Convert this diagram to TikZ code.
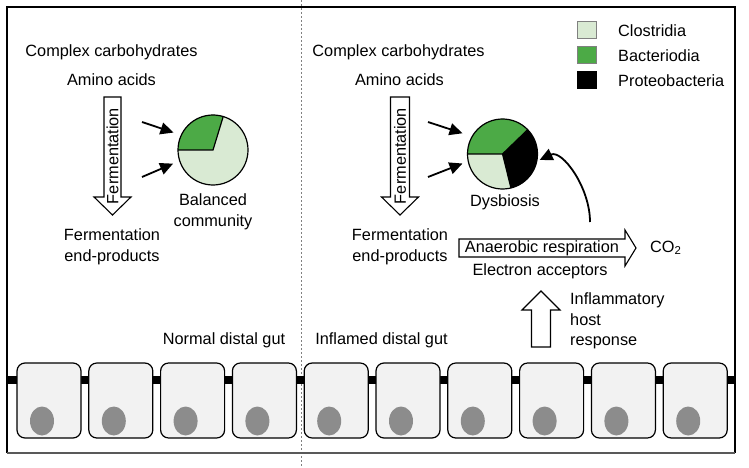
\documentclass[tikz,border=0pt]{standalone}
\usepackage{fontspec}
\setmainfont{Liberation Sans}
\usetikzlibrary{arrows.meta,calc,shapes.geometric}

\definecolor{clostridia}{RGB}{217,234,211}
\definecolor{bacteroid}{RGB}{76,170,70}
\definecolor{cellfill}{RGB}{242,242,242}
\definecolor{nucleusgray}{RGB}{140,140,140}

\begin{document}
\begin{tikzpicture}[x=1pt,y=-1pt,
	every node/.style={font=\fontsize{16.3}{20.5}\selectfont, inner sep=0pt},
	cellbox/.style={draw, fill=cellfill, rounded corners=8pt, line width=1.2pt, minimum width=64pt, minimum height=75pt},
	nucleus/.style={ellipse, fill=nucleusgray, minimum width=24pt, minimum height=29pt},
	pie/.style={circle, minimum size=70pt},
	feed/.style={line width=1.8pt, -{Triangle[length=13pt,width=12pt]}},
	blockarrow/.style={draw, fill=white, line width=1.1pt, line join=miter},
	legendbox/.style={draw=gray, fill=#1, line width=1pt, minimum width=19pt, minimum height=17pt}]
	\useasboundingbox (0,0) rectangle (749,468);
	% frame and divider
	\draw[gray, line width=1pt, dash pattern=on 2pt off 2pt] (301,0) -- (301,468);
	\draw[line width=1.2pt] (7,453) -- (7,7) -- (735,7) -- (735,453);
	\draw[gray!70!black, line width=1.2pt] (7,453) -- (735,453);
	% epithelium
	\draw[line width=8pt] (7,380) -- (735,380);
	\foreach \i in {0,...,9}{
		\node[cellbox] (cell\i) at (49+71.8*\i,400.5) {};
		\node[nucleus] (nuc\i) at ($(cell\i)+(-7,20.5)$) {};
	}
	\node (normal) at (224,340) {Normal distal gut};
	\node (inflamed) at (381.5,340) {Inflamed distal gut};
	% left panel
	\node (carbA) at (111.5,52) {Complex carbohydrates};
	\node (aminoA) at (111.5,80) {Amino acids};
	\draw[blockarrow] (104,97) -- (121,97) -- (121,197) -- (131,197) -- (112.5,215) -- (94,197) -- (104,197) -- cycle;
	\node[rotate=90] (fermA) at (112.5,156) {Fermentation};
	\node[align=center] (endA) at (112,247) {Fermentation\\end-products};
	\node[pie] (pieA) at (213,150) {};
	\fill[clostridia] (pieA) circle[radius=35pt];
	\fill[bacteroid] (pieA.center) -- (pieA.73) arc[start angle=73, end angle=180, radius=35pt] -- cycle;
	\draw[line width=1.2pt] (pieA.180) -- (pieA.center) -- (pieA.73);
	\draw[line width=1.2pt] (pieA) circle[radius=35pt];
	\coordinate (srcA1) at (142,122);
	\coordinate (srcA2) at (142,177);
	\draw[feed, shorten >=8pt] (srcA1) -- (pieA.155);
	\draw[feed, shorten >=7pt] (srcA2) -- (pieA.198);
	\node[align=center] (balanced) at (213,212) {Balanced\\community};
	% right panel
	\node (carbB) at (398.5,52) {Complex carbohydrates};
	\node (aminoB) at (399.5,80) {Amino acids};
	\draw[blockarrow] (390.5,97) -- (409.5,97) -- (409.5,197) -- (418.5,197) -- (400,215) -- (381.5,197) -- (390.5,197) -- cycle;
	\node[rotate=90] (fermB) at (400,156) {Fermentation};
	\node[align=center] (endB) at (400,247) {Fermentation\\end-products};
	\node[pie] (pieB) at (502.5,154) {};
	\fill[clostridia] (pieB) circle[radius=35pt];
	\fill[bacteroid] (pieB.center) -- (pieB.44) arc[start angle=44, end angle=180, radius=35pt] -- cycle;
	\fill[black] (pieB.center) -- (pieB.-76) arc[start angle=-76, end angle=44, radius=35pt] -- cycle;
	\draw[line width=1.2pt] (pieB.180) -- (pieB.center) -- (pieB.44);
	\draw[line width=1.2pt] (pieB.center) -- (pieB.-76);
	\draw[line width=1.2pt] (pieB) circle[radius=35pt];
	\coordinate (srcB1) at (428,122);
	\coordinate (srcB2) at (428,177);
	\draw[feed, shorten >=10pt] (srcB1) -- (pieB.150);
	\draw[feed, shorten >=6pt] (srcB2) -- (pieB.192);
	\node (dysbiosis) at (505,202) {Dysbiosis};
	% respiration
	\draw[blockarrow] (459,239) -- (625,239) -- (625,230) -- (636,248) -- (625,266) -- (625,257) -- (459,257) -- cycle;
	\node (anaerobic) at (542,248) {Anaerobic respiration};
	\node[anchor=west] (co2) at (650,248) {CO\textsubscript{2}};
	\node (acceptors) at (540,271) {Electron acceptors};
	\coordinate (respTop) at (590,222);
	\draw[feed, shorten >=3pt] (respTop) .. controls +(0,-35) and +(25,-12) .. (pieB.-12);
	% host response
	\draw[blockarrow] (531.5,347) -- (531.5,310) -- (522,310) -- (541,291) -- (560,310) -- (550.5,310) -- (550.5,347) -- cycle;
	\node[anchor=west, align=left] (host) at (570,321) {Inflammatory\\host\\response};
	% legend
	\node[legendbox=clostridia] (keyC) at (587,30.5) {};
	\node[legendbox=bacteroid] (keyB) at (587,55.5) {};
	\node[legendbox=black, draw=black] (keyP) at (587,80.5) {};
	\node[anchor=west] (txtC) at (618,30.5) {Clostridia};
	\node[anchor=west] (txtB) at (618,55.5) {Bacteriodia};
	\node[anchor=west] (txtP) at (618,80.5) {Proteobacteria};
\end{tikzpicture}
\end{document}
